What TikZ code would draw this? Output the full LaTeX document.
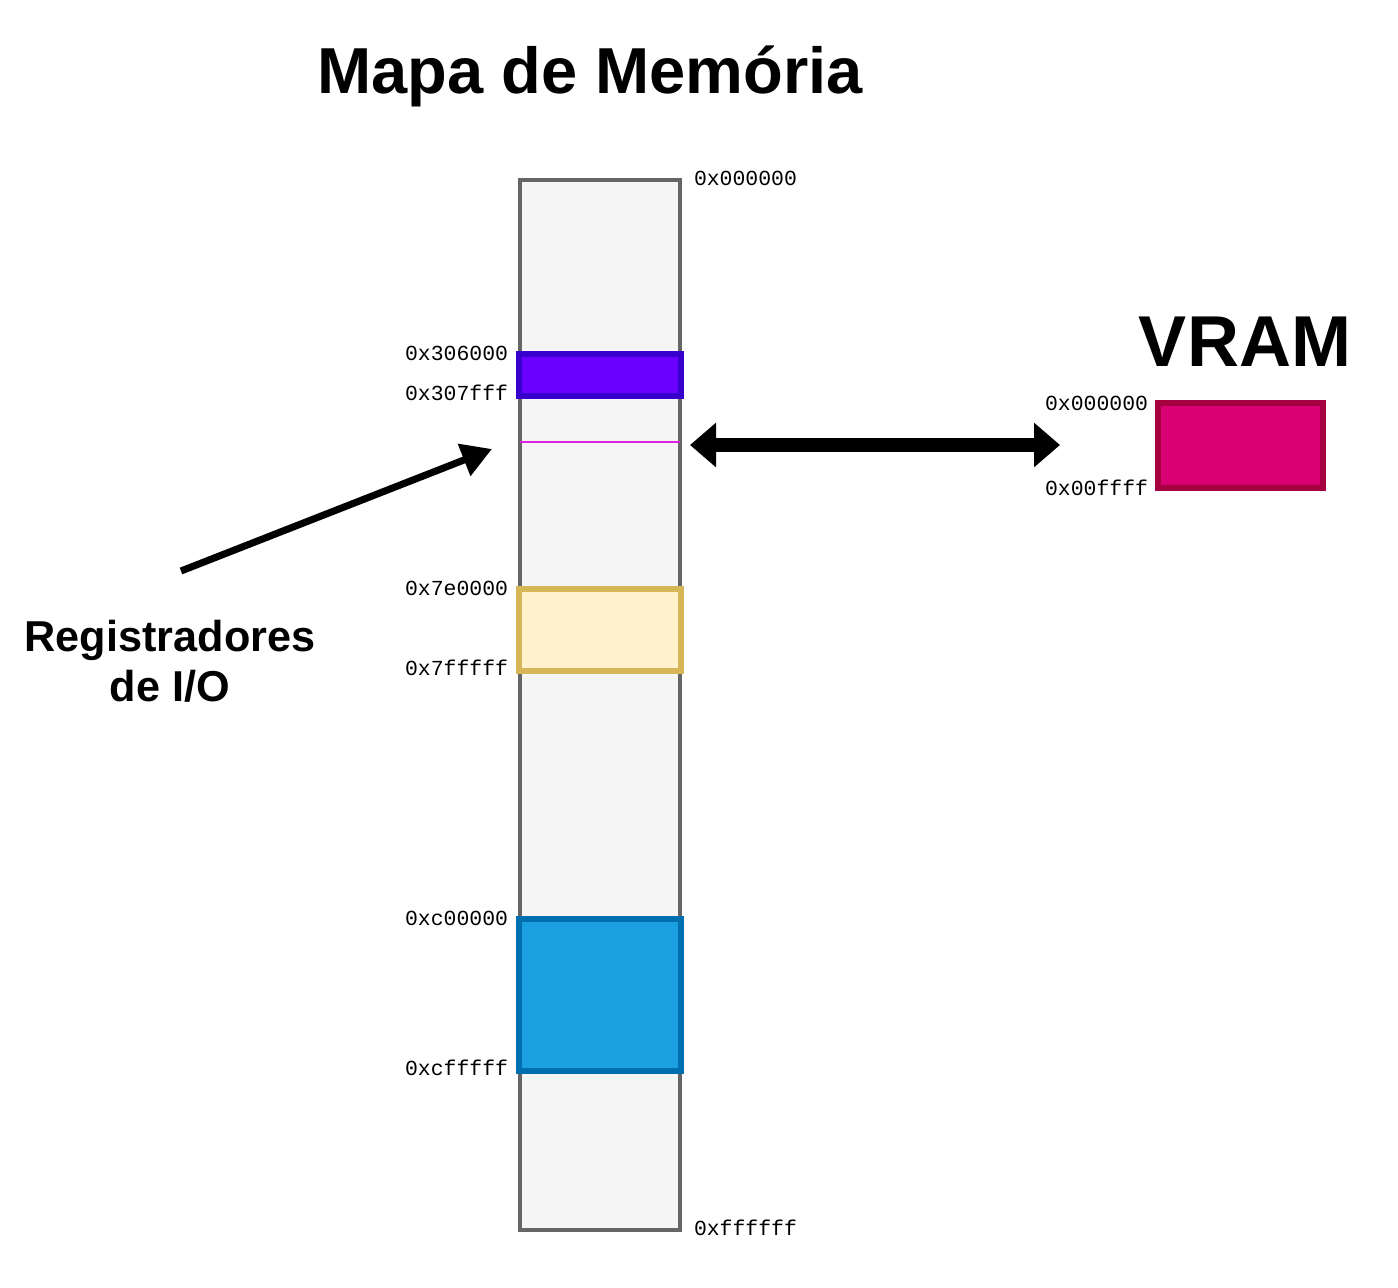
\documentclass[tikz,border=0pt]{standalone}
\usepackage{fontspec}
\setmainfont{Liberation Sans}
\setmonofont{Liberation Mono}
\usetikzlibrary{arrows.meta,positioning}
\definecolor{memfill}{HTML}{F5F5F5}
\definecolor{memline}{HTML}{666666}
\definecolor{ioline}{HTML}{E020E0}
\definecolor{regfill}{HTML}{6A00FF}
\definecolor{regline}{HTML}{3700CC}
\definecolor{romfill}{HTML}{FFF2CC}
\definecolor{romline}{HTML}{D6B656}
\definecolor{ramfill}{HTML}{1BA1E2}
\definecolor{ramline}{HTML}{006EAF}
\definecolor{vramfill}{HTML}{D80073}
\definecolor{vramline}{HTML}{A50040}

\begin{document}
\begin{tikzpicture}[x=0.02cm,y=-0.02cm,
 every node/.style={inner sep=0pt,outer sep=0pt},
 blk/.style={draw,line width=3.2pt,minimum width=3.24cm},
 addr/.style={font=\ttfamily\fontsize{12.2}{14}\selectfont},
 big/.style={font=\bfseries\fontsize{#1}{#1}\selectfont},
 arr/.style={-{Triangle[length=0.6cm,width=0.66cm]},line width=4pt},
 dbl/.style={{Triangle[length=0.52cm,width=0.86cm]}-{Triangle[length=0.52cm,width=0.86cm]},line width=7.5pt}]
\useasboundingbox (0,0) rectangle (1398,1287);
% titles
\node[big=37] (title) at (590,76) {Mapa de Memória};
\node[big=41] (vtitle) at (1245,342) {VRAM};
\node[font=\bfseries\fontsize{24.6}{28.5}\selectfont,align=center] (iolbl) at (170,661) {Registradores\\de I/O};
% memory column and regions
\node[draw=memline,fill=memfill,line width=2.2pt,minimum width=3.2cm,minimum height=21cm] (mem) at (600,705) {};
\node[blk,draw=regline,fill=regfill,minimum height=0.84cm] (reg) at (600,375) {};
\node[blk,draw=romline,fill=romfill,minimum height=1.64cm] (rom) at (600,630) {};
\node[blk,draw=ramline,fill=ramfill,minimum height=3.04cm] (ram) at (600,995) {};
\node[blk,draw=vramline,fill=vramfill,minimum width=3.3cm,minimum height=1.7cm] (vram) at (1240.5,445.5) {};
\coordinate (io) at (600,442);
\draw[ioline,line width=1.5pt] (mem.west |- io) -- (mem.east |- io);
% addresses
\node[addr,anchor=west] (m0) at (694,178) {0x000000};
\node[addr,anchor=west] (m1) at (694,1228) {0xffffff};
\node[addr,anchor=east] (r0) at (508,353) {0x306000};
\node[addr,anchor=east] (r1) at (508,393) {0x307fff};
\node[addr,anchor=east] (o0) at (508,588) {0x7e0000};
\node[addr,anchor=east] (o1) at (508,668) {0x7fffff};
\node[addr,anchor=east] (a0) at (508,918) {0xc00000};
\node[addr,anchor=east] (a1) at (508,1068) {0xcfffff};
\node[addr,anchor=east] (v0) at (1148,403) {0x000000};
\node[addr,anchor=east] (v1) at (1148,488) {0x00ffff};
% arrows
\coordinate (al) at (690,445);
\coordinate (ar) at (1060,445);
\coordinate (ps) at (181,571);
\coordinate (pe) at (492,449);
\draw[dbl] (al) -- (ar);
\draw[arr] (ps) -- (pe);
\end{tikzpicture}
\end{document}
